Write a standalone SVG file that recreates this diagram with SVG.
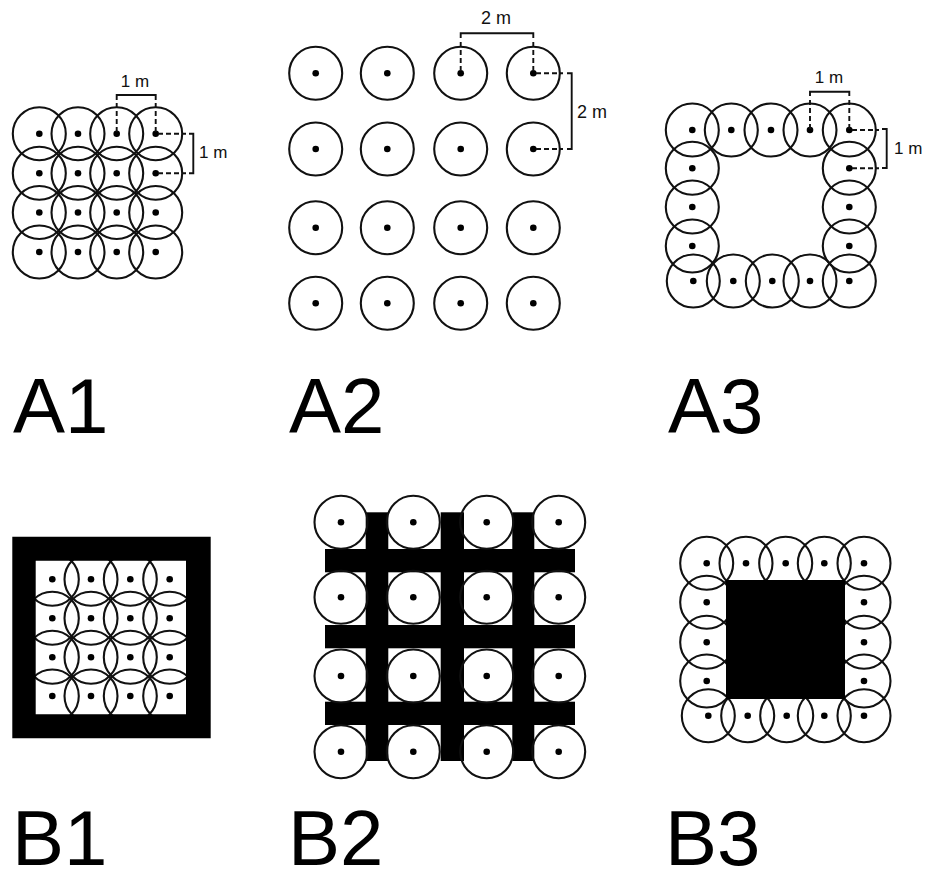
<svg xmlns="http://www.w3.org/2000/svg" width="927" height="873" viewBox="0 0 927 873">
<style>
.c{fill:none;stroke:#111;stroke-width:2.1}
.d{fill:#000}
.dim{fill:none;stroke:#111;stroke-width:1.9}
.dash{fill:none;stroke:#111;stroke-width:1.9;stroke-dasharray:5 3}
.t{font-family:"Liberation Sans",Arial,sans-serif;font-size:17px;fill:#111}
.t2{font-family:"Liberation Sans",Arial,sans-serif;font-size:18px;fill:#111}
.lab{font-family:"Liberation Sans",Arial,sans-serif;font-size:78px;fill:#000}
</style>
<rect width="927" height="873" fill="#fff"/>

<g id="A1">
<g class="c">
<circle cx="39.3" cy="133.7" r="26.5"/><circle cx="78" cy="133.7" r="26.5"/><circle cx="116.7" cy="133.7" r="26.5"/><circle cx="155.7" cy="133.7" r="26.5"/>
<circle cx="39.3" cy="173.2" r="26.5"/><circle cx="78" cy="173.2" r="26.5"/><circle cx="116.7" cy="173.2" r="26.5"/><circle cx="155.7" cy="173.2" r="26.5"/>
<circle cx="39.3" cy="212.5" r="26.5"/><circle cx="78" cy="212.5" r="26.5"/><circle cx="116.7" cy="212.5" r="26.5"/><circle cx="155.7" cy="212.5" r="26.5"/>
<circle cx="39.3" cy="252" r="26.5"/><circle cx="78" cy="252" r="26.5"/><circle cx="116.7" cy="252" r="26.5"/><circle cx="155.7" cy="252" r="26.5"/>
</g>
<g class="d">
<circle cx="39.3" cy="133.7" r="3.3"/><circle cx="78" cy="133.7" r="3.3"/><circle cx="116.7" cy="133.7" r="3.3"/><circle cx="155.7" cy="133.7" r="3.3"/>
<circle cx="39.3" cy="173.2" r="3.3"/><circle cx="78" cy="173.2" r="3.3"/><circle cx="116.7" cy="173.2" r="3.3"/><circle cx="155.7" cy="173.2" r="3.3"/>
<circle cx="39.3" cy="212.5" r="3.3"/><circle cx="78" cy="212.5" r="3.3"/><circle cx="116.7" cy="212.5" r="3.3"/><circle cx="155.7" cy="212.5" r="3.3"/>
<circle cx="39.3" cy="252" r="3.3"/><circle cx="78" cy="252" r="3.3"/><circle cx="116.7" cy="252" r="3.3"/><circle cx="155.7" cy="252" r="3.3"/>
</g>
<path class="dim" d="M116.7 100 V95 H155.7 V100"/>
<path class="dash" d="M116.7 103 V133.7 M155.7 103 V133.7"/>
<path class="dash" d="M158 133.7 H186 M158 173.2 H186"/>
<path class="dim" d="M189 133.7 H193.3 V173.2 H189"/>
<text class="t" x="135" y="87" text-anchor="middle">1 m</text>
<text class="t" x="199" y="158">1 m</text>
<text class="lab" x="13" y="432.5">A1</text>
</g>

<g id="A2">
<g class="c">
<circle cx="315.7" cy="73.3" r="26.5"/><circle cx="387.3" cy="73.3" r="26.5"/><circle cx="460.7" cy="73.3" r="26.5"/><circle cx="533.3" cy="73.3" r="26.5"/>
<circle cx="315.7" cy="149" r="26.5"/><circle cx="387.3" cy="149" r="26.5"/><circle cx="460.7" cy="149" r="26.5"/><circle cx="533.3" cy="149" r="26.5"/>
<circle cx="315.7" cy="227.7" r="26.5"/><circle cx="387.3" cy="227.7" r="26.5"/><circle cx="460.7" cy="227.7" r="26.5"/><circle cx="533.3" cy="227.7" r="26.5"/>
<circle cx="315.7" cy="303.3" r="26.5"/><circle cx="387.3" cy="303.3" r="26.5"/><circle cx="460.7" cy="303.3" r="26.5"/><circle cx="533.3" cy="303.3" r="26.5"/>
</g>
<g class="d">
<circle cx="315.7" cy="73.3" r="3.3"/><circle cx="387.3" cy="73.3" r="3.3"/><circle cx="460.7" cy="73.3" r="3.3"/><circle cx="533.3" cy="73.3" r="3.3"/>
<circle cx="315.7" cy="149" r="3.3"/><circle cx="387.3" cy="149" r="3.3"/><circle cx="460.7" cy="149" r="3.3"/><circle cx="533.3" cy="149" r="3.3"/>
<circle cx="315.7" cy="227.7" r="3.3"/><circle cx="387.3" cy="227.7" r="3.3"/><circle cx="460.7" cy="227.7" r="3.3"/><circle cx="533.3" cy="227.7" r="3.3"/>
<circle cx="315.7" cy="303.3" r="3.3"/><circle cx="387.3" cy="303.3" r="3.3"/><circle cx="460.7" cy="303.3" r="3.3"/><circle cx="533.3" cy="303.3" r="3.3"/>
</g>
<path class="dim" d="M460.7 38 V33.3 H533.3 V38"/>
<path class="dash" d="M460.7 42 V73.3 M533.3 42 V73.3"/>
<path class="dash" d="M536 73.3 H563 M536 149 H563"/>
<path class="dim" d="M567 73.3 H571.7 V149 H567"/>
<text class="t2" x="496" y="24" text-anchor="middle">2 m</text>
<text class="t2" x="577" y="118">2 m</text>
<text class="lab" x="289" y="432.5">A2</text>
</g>

<g id="A3">
<g class="c">
<circle cx="692.3" cy="130" r="26.5"/><circle cx="731.3" cy="130" r="26.5"/><circle cx="771" cy="130" r="26.5"/><circle cx="810" cy="130" r="26.5"/><circle cx="849.3" cy="130" r="26.5"/>
<circle cx="692.3" cy="168.3" r="26.5"/><circle cx="692.3" cy="207" r="26.5"/><circle cx="692.3" cy="246" r="26.5"/>
<circle cx="849.3" cy="168.3" r="26.5"/><circle cx="849.3" cy="207" r="26.5"/><circle cx="849.3" cy="246" r="26.5"/>
<circle cx="693.3" cy="281" r="26.5"/><circle cx="733.3" cy="281" r="26.5"/><circle cx="772.3" cy="281" r="26.5"/><circle cx="810" cy="281" r="26.5"/><circle cx="849.3" cy="281" r="26.5"/>
</g>
<g class="d">
<circle cx="692.3" cy="130" r="3.3"/><circle cx="731.3" cy="130" r="3.3"/><circle cx="771" cy="130" r="3.3"/><circle cx="810" cy="130" r="3.3"/><circle cx="849.3" cy="130" r="3.3"/>
<circle cx="692.3" cy="168.3" r="3.3"/><circle cx="692.3" cy="207" r="3.3"/><circle cx="692.3" cy="246" r="3.3"/>
<circle cx="849.3" cy="168.3" r="3.3"/><circle cx="849.3" cy="207" r="3.3"/><circle cx="849.3" cy="246" r="3.3"/>
<circle cx="693.3" cy="281" r="3.3"/><circle cx="733.3" cy="281" r="3.3"/><circle cx="772.3" cy="281" r="3.3"/><circle cx="810" cy="281" r="3.3"/><circle cx="849.3" cy="281" r="3.3"/>
</g>
<path class="dim" d="M810 96 V91.7 H849.3 V96"/>
<path class="dash" d="M810 100 V130 M849.3 100 V130"/>
<path class="dash" d="M852 130 H879 M852 168.3 H879"/>
<path class="dim" d="M882 129 H886.7 V168 H882"/>
<text class="t" x="829" y="83" text-anchor="middle">1 m</text>
<text class="t" x="894" y="154">1 m</text>
<text class="lab" x="668" y="432.5">A3</text>
</g>

<g id="B1">
<g class="c">
<circle cx="52.3" cy="579.3" r="26.5"/><circle cx="91" cy="579.3" r="26.5"/><circle cx="130.3" cy="579.3" r="26.5"/><circle cx="169.7" cy="579.3" r="26.5"/>
<circle cx="52.3" cy="618.3" r="26.5"/><circle cx="91" cy="618.3" r="26.5"/><circle cx="130.3" cy="618.3" r="26.5"/><circle cx="169.7" cy="618.3" r="26.5"/>
<circle cx="52.3" cy="657.3" r="26.5"/><circle cx="91" cy="657.3" r="26.5"/><circle cx="130.3" cy="657.3" r="26.5"/><circle cx="169.7" cy="657.3" r="26.5"/>
<circle cx="52.3" cy="696" r="26.5"/><circle cx="91" cy="696" r="26.5"/><circle cx="130.3" cy="696" r="26.5"/><circle cx="169.7" cy="696" r="26.5"/>
</g>
<g class="d">
<circle cx="52.3" cy="579.3" r="3.3"/><circle cx="91" cy="579.3" r="3.3"/><circle cx="130.3" cy="579.3" r="3.3"/><circle cx="169.7" cy="579.3" r="3.3"/>
<circle cx="52.3" cy="618.3" r="3.3"/><circle cx="91" cy="618.3" r="3.3"/><circle cx="130.3" cy="618.3" r="3.3"/><circle cx="169.7" cy="618.3" r="3.3"/>
<circle cx="52.3" cy="657.3" r="3.3"/><circle cx="91" cy="657.3" r="3.3"/><circle cx="130.3" cy="657.3" r="3.3"/><circle cx="169.7" cy="657.3" r="3.3"/>
<circle cx="52.3" cy="696" r="3.3"/><circle cx="91" cy="696" r="3.3"/><circle cx="130.3" cy="696" r="3.3"/><circle cx="169.7" cy="696" r="3.3"/>
</g>
<path fill="#000" fill-rule="evenodd" d="M12.3 536.7 H210.7 V738.3 H12.3 Z M35.7 560.7 V714.3 H186 V560.7 Z"/>
<text class="lab" x="12" y="865">B1</text>
</g>

<g id="B2">
<g fill="#000">
<rect x="365.7" y="512.3" width="22.6" height="248.7"/>
<rect x="440.7" y="512.3" width="23.3" height="248.7"/>
<rect x="512.3" y="512.3" width="22" height="248.7"/>
<rect x="325" y="549" width="250" height="23.3"/>
<rect x="325" y="625" width="250" height="23.3"/>
<rect x="325" y="701.7" width="250" height="23.3"/>
</g>
<g class="c">
<circle cx="341" cy="522.3" r="26.5"/><circle cx="413.3" cy="522.3" r="26.5"/><circle cx="486.7" cy="522.3" r="26.5"/><circle cx="558.7" cy="522.3" r="26.5"/>
<circle cx="341" cy="597.3" r="26.5"/><circle cx="413.3" cy="597.3" r="26.5"/><circle cx="486.7" cy="597.3" r="26.5"/><circle cx="558.7" cy="597.3" r="26.5"/>
<circle cx="341" cy="676" r="26.5"/><circle cx="413.3" cy="676" r="26.5"/><circle cx="486.7" cy="676" r="26.5"/><circle cx="558.7" cy="676" r="26.5"/>
<circle cx="341" cy="751.7" r="26.5"/><circle cx="413.3" cy="751.7" r="26.5"/><circle cx="486.7" cy="751.7" r="26.5"/><circle cx="558.7" cy="751.7" r="26.5"/>
</g>
<g class="d">
<circle cx="341" cy="522.3" r="3.3"/><circle cx="413.3" cy="522.3" r="3.3"/><circle cx="486.7" cy="522.3" r="3.3"/><circle cx="558.7" cy="522.3" r="3.3"/>
<circle cx="341" cy="597.3" r="3.3"/><circle cx="413.3" cy="597.3" r="3.3"/><circle cx="486.7" cy="597.3" r="3.3"/><circle cx="558.7" cy="597.3" r="3.3"/>
<circle cx="341" cy="676" r="3.3"/><circle cx="413.3" cy="676" r="3.3"/><circle cx="486.7" cy="676" r="3.3"/><circle cx="558.7" cy="676" r="3.3"/>
<circle cx="341" cy="751.7" r="3.3"/><circle cx="413.3" cy="751.7" r="3.3"/><circle cx="486.7" cy="751.7" r="3.3"/><circle cx="558.7" cy="751.7" r="3.3"/>
</g>
<text class="lab" x="288" y="865">B2</text>
</g>

<g id="B3">
<g class="c">
<circle cx="706.7" cy="563.3" r="26.5"/><circle cx="746" cy="563.3" r="26.5"/><circle cx="785.7" cy="563.3" r="26.5"/><circle cx="824.3" cy="563.3" r="26.5"/><circle cx="864" cy="563.3" r="26.5"/>
<circle cx="706.7" cy="602.3" r="26.5"/><circle cx="706.7" cy="642.3" r="26.5"/><circle cx="706.7" cy="681" r="26.5"/>
<circle cx="864" cy="602.3" r="26.5"/><circle cx="864" cy="642.3" r="26.5"/><circle cx="864" cy="681" r="26.5"/>
<circle cx="708.3" cy="715.7" r="26.5"/><circle cx="747.7" cy="715.7" r="26.5"/><circle cx="786.7" cy="715.7" r="26.5"/><circle cx="824.3" cy="715.7" r="26.5"/><circle cx="864" cy="715.7" r="26.5"/>
</g>
<g class="d">
<circle cx="706.7" cy="563.3" r="3.3"/><circle cx="746" cy="563.3" r="3.3"/><circle cx="785.7" cy="563.3" r="3.3"/><circle cx="824.3" cy="563.3" r="3.3"/><circle cx="864" cy="563.3" r="3.3"/>
<circle cx="706.7" cy="602.3" r="3.3"/><circle cx="706.7" cy="642.3" r="3.3"/><circle cx="706.7" cy="681" r="3.3"/>
<circle cx="864" cy="602.3" r="3.3"/><circle cx="864" cy="642.3" r="3.3"/><circle cx="864" cy="681" r="3.3"/>
<circle cx="708.3" cy="715.7" r="3.3"/><circle cx="747.7" cy="715.7" r="3.3"/><circle cx="786.7" cy="715.7" r="3.3"/><circle cx="824.3" cy="715.7" r="3.3"/><circle cx="864" cy="715.7" r="3.3"/>
</g>
<rect x="726" y="580" width="119" height="119" fill="#000"/>
<text class="lab" x="665" y="865">B3</text>
</g>
</svg>
